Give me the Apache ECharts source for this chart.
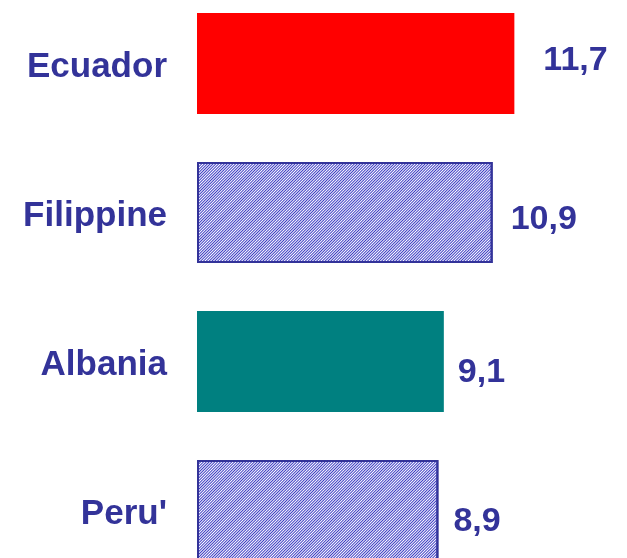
<!DOCTYPE html>
<html>
<head>
<meta charset="utf-8">
<script src="https://cdn.jsdelivr.net/npm/echarts@6/dist/echarts.min.js"></script>
<style>
  html, body { margin: 0; padding: 0; background: #fff; }
  #chart { width: 627px; height: 558px; }
</style>
</head>
<body>
<div id="chart"></div>
<script>
// dati
const countries = ['Ecuador', 'Filippine', 'Albania', "Peru'"];
const values = [11.7, 10.9, 9.1, 8.9];
const fills = ['red', 'hatch', 'teal', 'hatch'];
// spostamento delle etichette dei valori
const labelShift = [[14, -3], [3, 7], [-1, 11], [0, 11]];

function barStyle(kind) {
    if (kind === 'red') return { color: '#ff0000', decal: { symbol: 'none' } };
    if (kind === 'teal') return { color: '#008080', decal: { symbol: 'none' } };
    return {
        color: '#ffffff',
        borderColor: '#333399',
        borderWidth: 2,
        decal: {
            symbol: 'rect',
            color: '#3c3cc4',
            dashArrayX: [1, 0],
            dashArrayY: [1, 1],
            rotation: -Math.PI / 4,
            symbolSize: 1
        }
    };
}

const chart = echarts.init(document.getElementById('chart'));
chart.setOption({
    animation: false,
    aria: { enabled: true, decal: { show: true } },
    grid: { left: 197, top: -11, width: 434, height: 596, outerBoundsMode: 'none', containLabel: false },
    xAxis: {
        type: 'value',
        min: 0,
        max: 16,
        show: false
    },
    yAxis: {
        type: 'category',
        inverse: true,
        data: countries,
        axisLine: { show: false },
        axisTick: { show: false },
        axisLabel: {
            margin: 30,
            formatter: v => '{n|' + v + '}',
            rich: {
                n: {
                    color: '#333399',
                    fontFamily: 'Liberation Sans, Arial, sans-serif',
                    fontWeight: 'bold',
                    fontSize: 35,
                    padding: [8, 0, 0, 0]
                }
            }
        }
    },
    series: [{
        type: 'bar',
        barWidth: 101,
        data: values.map((v, i) => ({
            value: v,
            itemStyle: barStyle(fills[i]),
            label: { offset: labelShift[i] }
        })),
        label: {
            show: true,
            position: 'right',
            distance: 15,
            color: '#333399',
            fontFamily: 'Liberation Sans, Arial, sans-serif',
            fontWeight: 'bold',
            fontSize: 34,
            formatter: p => String(p.value).replace('.', ',')
        }
    }]
});
</script>
</body>
</html>
